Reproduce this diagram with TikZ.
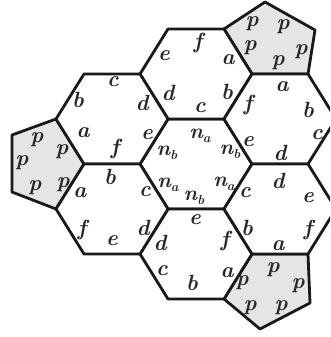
\documentclass[tikz,border=0pt]{standalone}
\newcommand{\nlab}[1]{\textit{n}\raisebox{-0.45ex}{\fontsize{13}{13}\selectfont\textit{#1}}}
\begin{document}
\begin{tikzpicture}[x=1pt,y=-1pt,
  edge/.style={line width=2.8pt,line join=round,draw=black!90},
  tile/.style={edge,fill=white},
  pent/.style={edge,fill=black!10},
  lbl/.style={inner sep=0pt,text=black!85,font=\fontsize{22}{22}\selectfont\bfseries\itshape},
  sub/.style={inner sep=0pt,text=black!85,font=\fontsize{21}{21}\selectfont\bfseries\itshape}]
\path[use as bounding box] (0,0) rectangle (330,337);
\clip (0,0) rectangle (330,337);
\fill[white] (0,0) rectangle (330,337);
% pentagons
\draw[pent] (56,119) -- (84,164) -- (56,209) -- (12,192) -- (12,135) -- cycle;
\draw[pent] (224,29) -- (252,74) -- (308,74) -- (315,30) -- (265,2) -- cycle;
\draw[pent] (252,254) -- (308,254) -- (310,303) -- (260,329) -- (224,299) -- cycle;
% hexagons
\foreach \cx/\cy in {196/164,196/74,196/254,112/119,112/209,280/119,280/209}{
  \draw[tile] (\cx+56,\cy) -- (\cx+28,\cy+45) -- (\cx-28,\cy+45) -- (\cx-56,\cy)
    -- (\cx-28,\cy-45) -- (\cx+28,\cy-45) -- cycle;
}
% upper-left hexagon
\node[lbl] (nwc) at (113,82) {c};
\node[lbl] (nwb) at (78,100) {b};
\node[lbl] (nwd) at (142,103) {d};
\node[lbl] (nwa) at (83,133) {a};
\node[lbl] (nwe) at (147,135) {e};
\node[lbl] (nwf) at (115,149) {f};
% top hexagon
\node[lbl] (ne) at (164,56) {e};
\node[lbl] (nf) at (198,43) {f};
\node[lbl] (na) at (228,60) {a};
\node[lbl] (nd) at (168,93) {d};
\node[lbl] (nb) at (227,92) {b};
\node[lbl] (nc) at (200,108) {c};
% upper-right hexagon
\node[lbl] (nea) at (282,87) {a};
\node[lbl] (nef) at (248,105) {f};
\node[lbl] (neb) at (308,110) {b};
\node[lbl] (nee) at (248,142) {e};
\node[lbl] (nec) at (317,135) {c};
\node[lbl] (ned) at (280,153) {d};
% centre hexagon
\node[sub] (c1) at (200,136) {\nlab{a}};
\node[sub] (c2) at (167,153) {\nlab{b}};
\node[sub] (c3) at (230,152) {\nlab{b}};
\node[sub] (c4) at (168,185) {\nlab{a}};
\node[sub] (c5) at (224,184) {\nlab{a}};
\node[sub] (c6) at (194,198) {\nlab{b}};
% lower-left hexagon
\node[lbl] (swa) at (80,193) {a};
\node[lbl] (swb) at (110,177) {b};
\node[lbl] (swc) at (145,192) {c};
\node[lbl] (swf) at (82,230) {f};
\node[lbl] (swe) at (112,241) {e};
\node[lbl] (swd) at (143,228) {d};
% bottom hexagon
\node[lbl] (sd) at (160,243) {d};
\node[lbl] (se) at (195,220) {e};
\node[lbl] (sf) at (225,241) {f};
\node[lbl] (sc) at (162,271) {c};
\node[lbl] (sa) at (227,273) {a};
\node[lbl] (sb) at (192,283) {b};
% lower-right hexagon
\node[lbl] (sec) at (245,193) {c};
\node[lbl] (sed) at (278,181) {d};
\node[lbl] (see) at (308,198) {e};
\node[lbl] (seb) at (247,228) {b};
\node[lbl] (sef) at (308,230) {f};
\node[lbl] (sea) at (278,246) {a};
% pentagon labels
\node[lbl] (lp1) at (37,140) {p};
\node[lbl] (lp2) at (62,152) {p};
\node[lbl] (lp3) at (22,163) {p};
\node[lbl] (lp4) at (35,188) {p};
\node[lbl] (lp5) at (63,185) {p};
\node[lbl] (tp1) at (252,24) {p};
\node[lbl] (tp2) at (283,27) {p};
\node[lbl] (tp3) at (250,48) {p};
\node[lbl] (tp4) at (301,52) {p};
\node[lbl] (tp5) at (278,63) {p};
\node[lbl] (bp1) at (273,270) {p};
\node[lbl] (bp2) at (242,283) {p};
\node[lbl] (bp3) at (298,286) {p};
\node[lbl] (bp4) at (250,308) {p};
\node[lbl] (bp5) at (281,308) {p};
\end{tikzpicture}
\end{document}
